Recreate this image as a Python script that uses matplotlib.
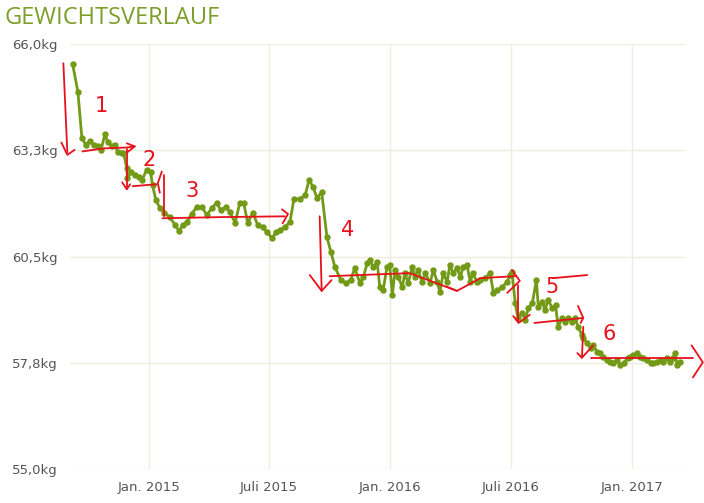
import matplotlib
matplotlib.use("Agg")
import matplotlib.pyplot as plt
import pandas as pd

# weight log
dates = [
    "2014-09-07", "2014-09-15", "2014-09-21", "2014-09-27", "2014-10-03", "2014-10-09",
    "2014-10-15", "2014-10-20", "2014-10-26", "2014-10-30", "2014-11-05", "2014-11-10",
    "2014-11-14", "2014-11-20", "2014-11-23", "2014-11-28", "2014-11-29", "2014-12-05",
    "2014-12-10", "2014-12-16", "2014-12-21", "2014-12-28", "2015-01-03", "2015-01-06",
    "2015-01-11", "2015-01-17", "2015-01-24", "2015-02-01", "2015-02-09", "2015-02-15",
    "2015-02-21", "2015-02-27", "2015-03-06", "2015-03-14", "2015-03-22", "2015-03-29",
    "2015-04-06", "2015-04-13", "2015-04-19", "2015-04-27", "2015-05-03", "2015-05-11",
    "2015-05-18", "2015-05-24", "2015-05-30", "2015-06-07", "2015-06-14", "2015-06-22",
    "2015-06-28", "2015-07-06", "2015-07-12", "2015-07-18", "2015-07-25", "2015-08-02",
    "2015-08-08", "2015-08-17", "2015-08-25", "2015-08-31", "2015-09-06", "2015-09-12",
    "2015-09-19", "2015-09-27", "2015-10-03", "2015-10-09", "2015-10-18", "2015-10-26",
    "2015-11-02", "2015-11-08", "2015-11-16", "2015-11-21", "2015-11-27", "2015-12-01",
    "2015-12-06", "2015-12-12", "2015-12-16", "2015-12-21", "2015-12-27", "2015-12-31",
    "2016-01-04", "2016-01-08", "2016-01-13", "2016-01-19", "2016-01-23", "2016-01-28",
    "2016-02-03", "2016-02-07", "2016-02-12", "2016-02-18", "2016-02-23", "2016-03-01",
    "2016-03-06", "2016-03-12", "2016-03-16", "2016-03-21", "2016-03-27", "2016-03-31",
    "2016-04-05", "2016-04-11", "2016-04-16", "2016-04-20", "2016-04-26", "2016-05-01",
    "2016-05-05", "2016-05-11", "2016-05-16", "2016-05-23", "2016-05-31", "2016-06-05",
    "2016-06-11", "2016-06-18", "2016-06-26", "2016-06-30", "2016-07-03", "2016-07-08",
    "2016-07-12", "2016-07-19", "2016-07-23", "2016-07-28", "2016-08-03", "2016-08-09",
    "2016-08-12", "2016-08-18", "2016-08-22", "2016-08-27", "2016-09-02", "2016-09-07",
    "2016-09-11", "2016-09-17", "2016-09-22", "2016-09-26", "2016-10-02", "2016-10-07",
    "2016-10-11", "2016-10-17", "2016-10-19", "2016-10-25", "2016-10-30", "2016-11-03",
    "2016-11-09", "2016-11-14", "2016-11-18", "2016-11-24", "2016-11-29", "2016-12-03",
    "2016-12-09", "2016-12-14", "2016-12-19", "2016-12-25", "2016-12-29", "2017-01-03",
    "2017-01-09", "2017-01-13", "2017-01-18", "2017-01-24", "2017-01-29", "2017-02-02",
    "2017-02-08", "2017-02-13", "2017-02-17", "2017-02-23", "2017-02-28", "2017-03-04",
    "2017-03-07", "2017-03-10", "2017-03-15",
]
weights = [
    65.48, 64.76, 63.57, 63.39, 63.49, 63.39,
    63.36, 63.26, 63.67, 63.46, 63.36, 63.39,
    63.21, 63.18, 63.18, 62.79, 62.53, 62.69,
    62.61, 62.56, 62.48, 62.74, 62.69, 62.35,
    61.96, 61.76, 61.63, 61.52, 61.32, 61.16,
    61.32, 61.39, 61.60, 61.78, 61.78, 61.57,
    61.76, 61.89, 61.70, 61.78, 61.65, 61.37,
    61.89, 61.89, 61.37, 61.63, 61.32, 61.26,
    61.13, 60.98, 61.13, 61.19, 61.26, 61.39,
    61.99, 61.99, 62.09, 62.48, 62.30, 62.01,
    62.17, 61.00, 60.62, 60.23, 59.89, 59.81,
    59.89, 60.20, 59.81, 59.97, 60.33, 60.41,
    60.23, 60.36, 59.71, 59.63, 60.23, 60.28,
    59.50, 60.15, 59.97, 59.71, 60.07, 59.81,
    60.23, 59.97, 60.15, 59.84, 60.07, 59.81,
    60.15, 59.84, 59.58, 60.07, 59.84, 60.28,
    60.07, 60.20, 59.97, 60.23, 60.28, 59.84,
    60.07, 59.84, 59.89, 59.94, 60.07, 59.56,
    59.63, 59.71, 59.84, 60.02, 60.10, 59.30,
    58.91, 59.04, 58.86, 59.17, 59.30, 59.89,
    59.19, 59.32, 59.12, 59.37, 59.17, 59.25,
    58.68, 58.91, 58.81, 58.91, 58.81, 58.91,
    58.68, 58.47, 58.39, 58.26, 58.13, 58.21,
    58.03, 58.00, 57.90, 57.82, 57.77, 57.74,
    57.82, 57.69, 57.74, 57.87, 57.90, 57.95,
    58.00, 57.90, 57.87, 57.82, 57.74, 57.74,
    57.77, 57.82, 57.77, 57.87, 57.77, 57.87,
    58.00, 57.69, 57.77,
]

ytick_values = [55.0, 57.75, 60.5, 63.25, 66.0]
ytick_labels = ["55,0kg", "57,8kg", "60,5kg", "63,3kg", "66,0kg"]
xtick_dates = ["2015-01-01", "2015-07-01", "2016-01-01", "2016-07-01", "2017-01-01"]
xtick_labels = ["Jan. 2015", "Juli 2015", "Jan. 2016", "Juli 2016", "Jan. 2017"]
x_range = ["2014-09-03", "2017-03-22"]

# red hand drawn marks on top of the chart: (date, kg) strokes
strokes = [
    [("2014-08-24", 65.5), ("2014-08-30", 63.2)],
    [("2014-08-21", 63.45), ("2014-08-30", 63.13), ("2014-09-10", 63.26)],
    [("2014-09-22", 63.22), ("2014-10-25", 63.3), ("2014-11-28", 63.32), ("2014-12-10", 63.35)],
    [("2014-11-28", 63.43), ("2014-12-10", 63.35), ("2014-11-29", 63.2)],
    [("2014-11-28", 63.27), ("2014-11-28", 62.24)],
    [("2014-11-21", 62.42), ("2014-11-28", 62.24), ("2014-12-03", 62.37)],
    [("2014-12-07", 62.32), ("2015-01-12", 62.37)],
    [("2015-01-24", 62.6), ("2015-01-24", 61.56)],
    [("2015-01-20", 62.7), ("2015-01-14", 62.4), ("2015-01-17", 62.15)],
    [("2015-01-21", 61.49), ("2015-04-20", 61.52), ("2015-07-25", 61.54)],
    [("2015-07-21", 61.72), ("2015-07-30", 61.6), ("2015-07-22", 61.36)],
    [("2015-09-16", 61.54), ("2015-09-19", 59.61)],
    [("2015-09-01", 60.02), ("2015-09-19", 59.61), ("2015-10-04", 59.89)],
    [("2015-10-01", 59.99), ("2016-01-30", 60.07), ("2016-04-11", 59.61),
     ("2016-05-16", 59.94), ("2016-07-08", 59.99)],
    [("2016-03-26", 59.72), ("2016-04-11", 59.61)],
    [("2016-07-03", 60.15), ("2016-07-15", 59.87), ("2016-06-26", 59.56)],
    [("2016-07-12", 59.76), ("2016-07-12", 58.83)],
    [("2016-07-05", 58.96), ("2016-07-13", 58.78), ("2016-07-30", 58.99)],
    [("2016-09-03", 59.94), ("2016-10-25", 60.02)],
    [("2016-08-06", 58.78), ("2016-10-19", 58.91)],
    [("2016-10-11", 59.22), ("2016-10-19", 58.91), ("2016-10-15", 58.78)],
    [("2016-10-19", 58.68), ("2016-10-17", 57.88)],
    [("2016-10-10", 58.0), ("2016-10-17", 57.88), ("2016-11-03", 58.2)],
    [("2016-10-30", 57.88), ("2017-04-03", 57.88)],
    [("2017-04-01", 58.2), ("2017-04-18", 57.76), ("2017-04-03", 57.37)],
]
stroke_labels = [
    ("1", "2014-10-21", 64.4),
    ("2", "2015-01-01", 63.0),
    ("3", "2015-03-06", 62.2),
    ("4", "2015-10-28", 61.18),
    ("5", "2016-09-02", 59.7),
    ("6", "2016-11-27", 58.5),
]

green = "#739a17"
grid_col = "#eeeddf"

fig = plt.figure(figsize=(7.04, 5.03), dpi=100)
ax = fig.add_axes([0.0994, 0.0676, 0.8736, 0.8449])

ax.plot(pd.to_datetime(dates), weights, color=green, lw=2.0, marker="o",
        markersize=3.6, zorder=3)

for s in strokes:
    xs = pd.to_datetime([p[0] for p in s])
    ys = [p[1] for p in s]
    ax.plot(xs, ys, color="#e8101a", lw=1.3, zorder=4, clip_on=False,
            solid_capstyle="round", solid_joinstyle="round")
for txt, d, v in stroke_labels:
    ax.text(pd.Timestamp(d), v, txt, color="#e8101a", fontsize=15,
            ha="center", va="center", zorder=4)

ax.set_ylim(55, 66)
ax.set_xlim(pd.to_datetime(x_range))
ax.set_yticks(ytick_values)
ax.set_yticklabels(ytick_labels)
ax.set_xticks(pd.to_datetime(xtick_dates))
ax.set_xticklabels(xtick_labels)
ax.tick_params(length=0, labelsize=9.5, labelcolor="#555555")
ax.tick_params(axis="y", pad=9)
ax.tick_params(axis="x", pad=9)
ax.grid(True, color=grid_col, lw=1.0)
ax.set_axisbelow(True)
for sp in ax.spines.values():
    sp.set_visible(False)

fig.text(0.006, 0.965, "GEWICHTSVERLAUF", color="#7c9e2a", fontsize=17,
         ha="left", va="center", family="Open Sans")

fig.savefig("out.png", dpi=100)
